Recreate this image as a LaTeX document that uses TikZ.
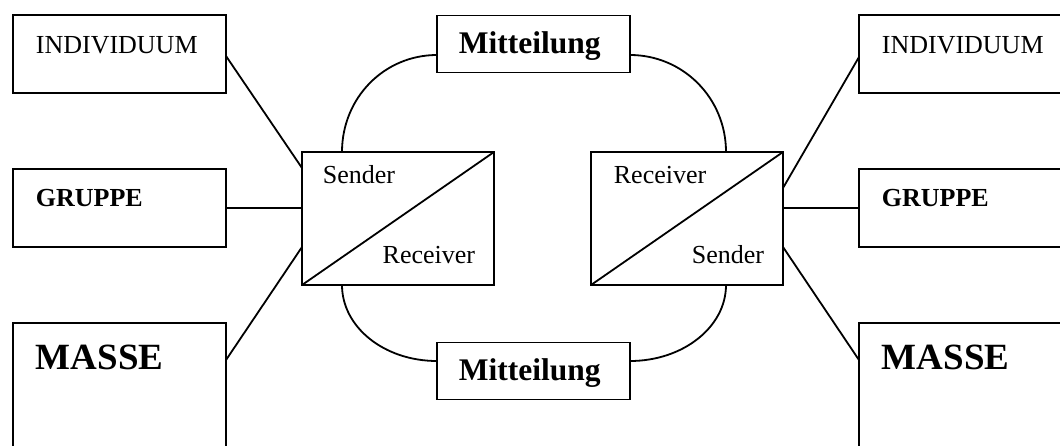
\documentclass[tikz,border=0pt]{standalone}
\usepackage{fontspec}
\setmainfont{Liberation Serif}
\usetikzlibrary{calc}
\begin{document}
\begin{tikzpicture}[x=1pt,y=-1pt,line width=1.8pt,
  box/.style={draw,rectangle,inner sep=0pt,outer sep=0pt},
  sidebox/.style={box,minimum width=213pt,minimum height=78pt},
  massbox/.style={box,minimum width=213pt,minimum height=150pt},
  srbox/.style={box,minimum width=192pt,minimum height=133pt},
  msgbox/.style={box,minimum width=193pt,minimum height=57pt},
  txt/.style={anchor=base west,inner sep=0pt},
  normal/.style={txt,font=\fontsize{26}{30}\selectfont},
  boldtxt/.style={txt,font=\fontsize{26}{30}\selectfont\bfseries},
  msgtxt/.style={txt,font=\fontsize{31.5}{36}\selectfont\bfseries},
  masstxt/.style={txt,font=\fontsize{37}{42}\selectfont\bfseries}]
\useasboundingbox (0,0) rectangle (1060,445);
\clip (0,0) rectangle (1060,445);
% left column
\node[sidebox] (ind1) at (119.5,54) {};
\node[sidebox] (grp1) at (119.5,208) {};
\node[massbox] (mas1) at (119.5,398) {};
% right column
\node[sidebox] (ind2) at (965.5,54) {};
\node[sidebox] (grp2) at (965.5,208) {};
\node[massbox] (mas2) at (965.5,398) {};
% sender/receiver boxes
\node[srbox] (sr1) at (398,218.5) {};
\node[srbox] (sr2) at (687,218.5) {};
\draw (sr1.south west) -- (sr1.north east);
\draw (sr2.south west) -- (sr2.north east);
% message boxes
\node[msgbox] (msg1) at (533.5,44) {};
\node[msgbox] (msg2) at (533.5,371) {};
% texts
\node[normal] (t1) at (35,53) {INDIVIDUUM};
\node[boldtxt] (t2) at (35,206) {GRUPPE};
\node[masstxt] (t3) at (35,369) {MASSE};
\node[normal] (t4) at (881,53) {INDIVIDUUM};
\node[boldtxt] (t5) at (881,206) {GRUPPE};
\node[masstxt] (t6) at (881,369) {MASSE};
\node[normal] (t7) at (322,183) {Sender};
\node[normal,anchor=base east] (t8) at (476,263) {Receiver};
\node[normal] (t9) at (613,183) {Receiver};
\node[normal,anchor=base east] (t10) at (765,263) {Sender};
\node[msgtxt] (t11) at (458,53) {Mitteilung};
\node[msgtxt] (t12) at (458,380) {Mitteilung};
% connectors left
\draw ($(ind1.north east)+(0,41)$) -- ($(sr1.north west)+(0,16)$);
\draw (grp1.east) -- (grp1.east -| sr1.west);
\draw ($(mas1.north east)+(0,37)$) -- ($(sr1.south west)+(0,-38)$);
% connectors right
\draw ($(ind2.north west)+(0,42)$) -- ($(sr2.north east)+(0,36)$);
\draw (grp2.west) -- (grp2.west -| sr2.east);
\draw ($(mas2.north west)+(0,37)$) -- ($(sr2.south east)+(0,-38)$);
% message arcs
\draw ($(sr1.north west)+(40,0)$) .. controls +(0,-54) and +(-53,0) .. ($(msg1.west)+(0,11)$);
\draw ($(msg1.east)+(0,11)$) .. controls +(53,0) and +(0,-54) .. ($(sr2.north east)+(-57,0)$);
\draw ($(sr1.south west)+(40,0)$) .. controls +(0,42) and +(-53,0) .. ($(msg2.west)+(0,-10)$);
\draw ($(msg2.east)+(0,-10)$) .. controls +(53,0) and +(0,42) .. ($(sr2.south east)+(-57,0)$);
\end{tikzpicture}
\end{document}
